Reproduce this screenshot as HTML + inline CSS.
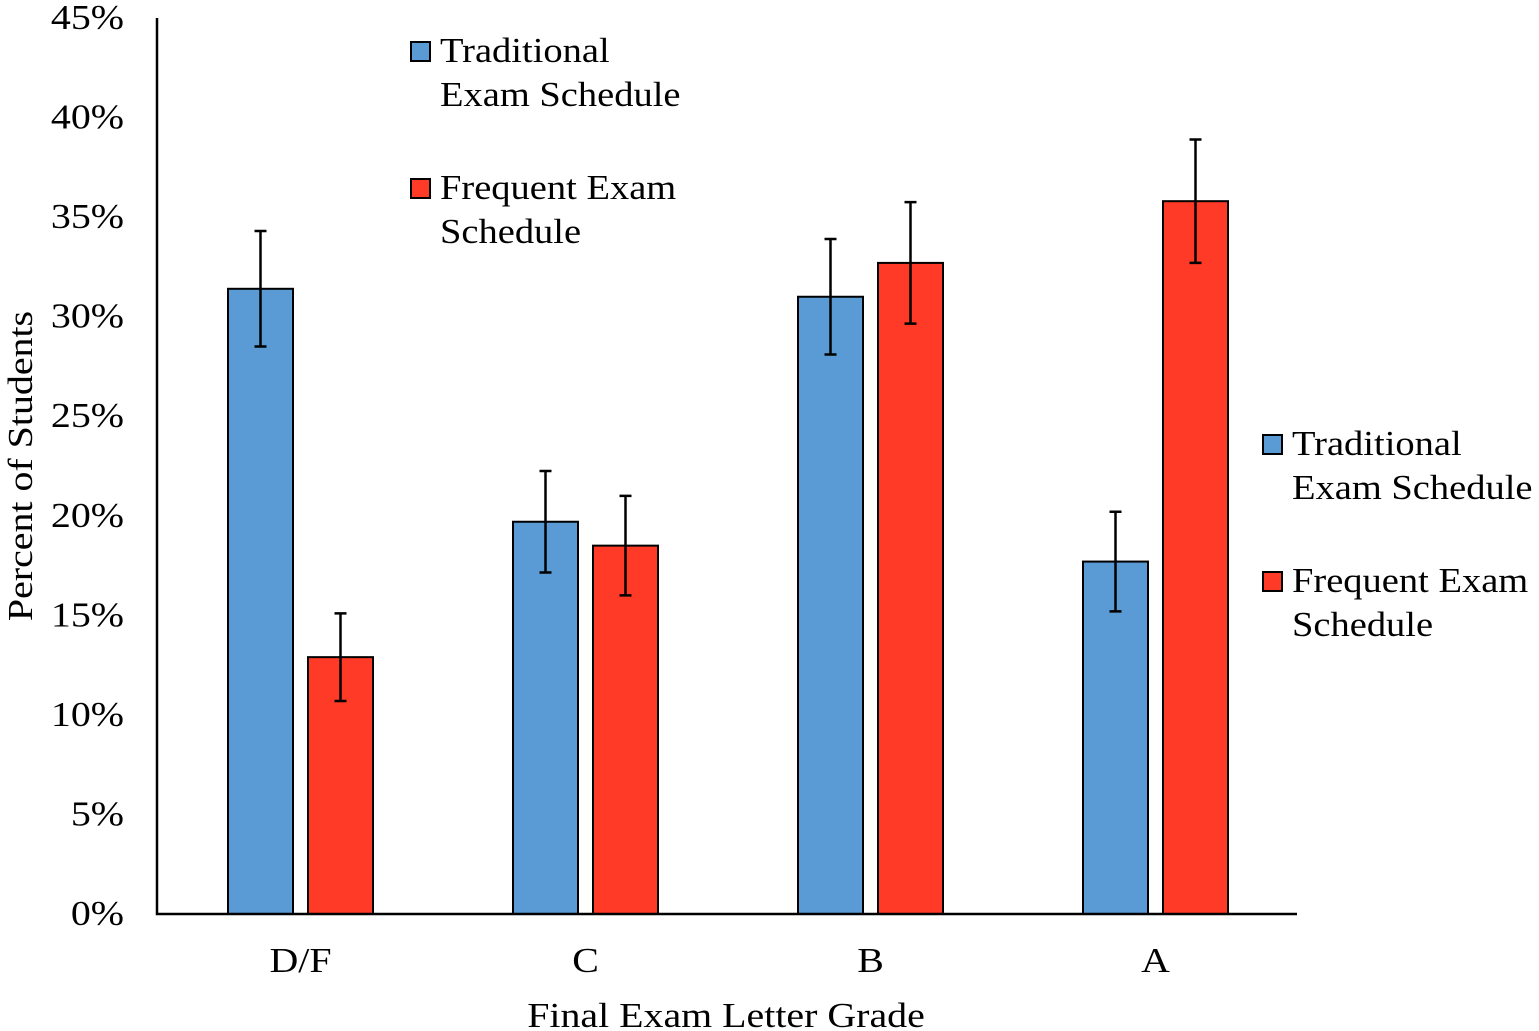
<!DOCTYPE html>
<html><head><meta charset="utf-8"><style>
html,body{margin:0;padding:0;background:#fff;}
svg{display:block;font-family:"Liberation Serif",serif;}
</style></head><body>
<svg id="chart" width="1539" height="1031"></svg>
<script>
const categories=["D/F","C","B","A"];
const traditional=[31.4,19.7,31.0,17.7];
const traditionalErr=[2.9,2.55,2.9,2.5];
const frequent=[12.9,18.5,32.7,35.8];
const frequentErr=[2.2,2.5,3.05,3.1];
const yTicks=[0,5,10,15,20,25,30,35,40,45];
const seriesNames=["Traditional Exam Schedule","Frequent Exam Schedule"];

const NS="http://www.w3.org/2000/svg";
const svg=document.getElementById('chart');
const x0=157,x1=1297,y0=914,y45=18;
const yScale=v=>y0-(y0-y45)*v/45;
const band=(x1-x0)/categories.length;
const xCenter=i=>x0+band*(i+0.5)+1;
const bw=65,gap=15;
const FS=35;
function el(tag,attrs,text){const e=document.createElementNS(NS,tag);for(const k in attrs)e.setAttribute(k,attrs[k]);if(text!==undefined)e.textContent=text;svg.appendChild(e);return e;}
function txt(x,y,s,anchor,rot,sx){
  sx=sx||1.14;
  const tr=rot?`translate(${x},${y}) rotate(-90) scale(${sx},1)`:`translate(${x},${y}) scale(${sx},1)`;
  return el('text',{x:0,y:0,transform:tr,'text-anchor':anchor,'font-size':FS,fill:'#000'},s);
}

yTicks.forEach(t=>{
  const e=txt(124,yScale(t)+11,t+'%','end');
  
  
});
const colors=['#5b9bd5','#ff3a27'];
function drawBar(v,err,cx,color,name){
  const r=el('rect',{x:cx,y:yScale(v),width:bw,height:y0-yScale(v),fill:color,stroke:'#000','stroke-width':2});
  
  
  const mx=cx+bw/2;
  const g=el('path',{d:`M${mx},${yScale(v+err)}V${yScale(v-err)}M${mx-6},${yScale(v+err)}H${mx+6}M${mx-6},${yScale(v-err)}H${mx+6}`,stroke:'#000','stroke-width':2.5,fill:'none'});
  
  
}
categories.forEach((c,i)=>{
  const cx=xCenter(i);
  drawBar(traditional[i],traditionalErr[i],cx-gap/2-bw,colors[0],'bar-traditional-'+i);
  drawBar(frequent[i],frequentErr[i],cx+gap/2,colors[1],'bar-frequent-'+i);
  const t=txt(cx,972,c,'middle');
  
  
});
const ax=el('path',{d:`M${x0},${y45}V${y0}H${x1}`,stroke:'#000','stroke-width':2.5,fill:'none'});


const xt=txt(726,1027,'Final Exam Letter Grade','middle');


const yt=txt(32,466,'Percent of Students','middle',true);



function legend(lx,ly,prefix){
  const lines=[["Traditional","Exam Schedule"],["Frequent Exam","Schedule"]];
  lines.forEach((ln,k)=>{
    const by=ly+k*137;
    const s=el('rect',{x:lx,y:by-20,width:19,height:19,fill:colors[k],stroke:'#000','stroke-width':2});
    
    
    ln.forEach((t,j)=>{
      const e=txt(lx+29,by+j*44,t,'start',false,1.1);
      
      
    });
  });
}
legend(411,62,'legend-top');
legend(1263,455,'legend-right');
</script>
</body></html>
